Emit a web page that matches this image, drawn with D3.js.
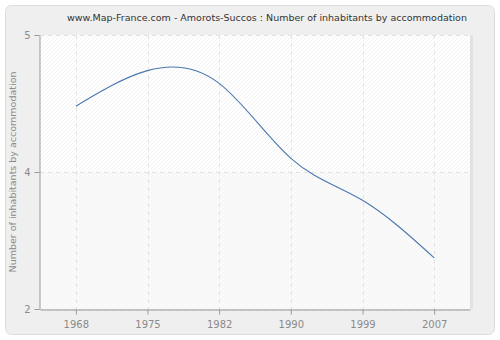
<!DOCTYPE html>
<html><head><meta charset="utf-8">
<script src="https://cdn.jsdelivr.net/npm/d3@7"></script>
<style>body{margin:0;background:#fff}svg{display:block}</style>
</head><body>
<script>
const years = ["1968","1975","1982","1990","1999","2007"];
const values = [4.22, 4.61, 4.47, 3.65, 3.19, 2.56];
const yTicks = [2, 3.5, 5];
const title = "www.Map-France.com - Amorots-Succos : Number of inhabitants by accommodation";
const yTitle = "Number of inhabitants by accommodation";

const W = 500, H = 340;
const m = {l:40, r:30, t:35, b:31};
const svg = d3.select("body").append("svg").attr("width", W).attr("height", H);
const defs = svg.append("defs");
function hatch(id, bg, line){
  const p = defs.append("pattern").attr("id", id).attr("patternUnits","userSpaceOnUse")
    .attr("width",4).attr("height",4);
  p.append("rect").attr("width",4).attr("height",4).attr("fill",bg);
  p.append("path").attr("d","M-1,1 l2,-2 M0,4 l4,-4 M3,5 l2,-2").attr("stroke",line).attr("stroke-width",0.7);
}
hatch("h1","#ffffff","#ececec");
hatch("h2","#fafafa","#f2f2f2");

svg.append("rect").attr("x",5.5).attr("y",5.5).attr("width",489).attr("height",329)
  .attr("rx",6).attr("fill","#efefef").attr("stroke","#dcdcdc");

const x = d3.scalePoint().domain(years).range([m.l, W-m.r]).padding(0.5);
const y = d3.scaleLinear().domain([2,5]).range([H-m.b, m.t]);

svg.append("rect").attr("x",W-m.r).attr("y",m.t).attr("width",3).attr("height",H-m.b-m.t).attr("fill","#e2e2e2");
svg.append("rect").attr("x",m.l).attr("y",y(5)).attr("width",W-m.r-m.l).attr("height",y(3.5)-y(5)).attr("fill","url(#h1)");
svg.append("rect").attr("x",m.l).attr("y",y(3.5)).attr("width",W-m.r-m.l).attr("height",y(2)-y(3.5)).attr("fill","url(#h2)");

const grid = svg.append("g").attr("stroke","#e2e2e2").attr("stroke-dasharray","4,4");
years.forEach(d=>grid.append("line").attr("x1",Math.round(x(d))+0.5).attr("x2",Math.round(x(d))+0.5).attr("y1",m.t).attr("y2",H-m.b));
yTicks.forEach(d=>grid.append("line").attr("x1",m.l).attr("x2",W-m.r).attr("y1",Math.round(y(d))+0.5).attr("y2",Math.round(y(d))+0.5));

const xa = svg.append("g").attr("transform",`translate(0,${H-m.b+0.5})`)
  .call(d3.axisBottom(x).tickSize(5).tickSizeOuter(0).tickPadding(6));
const ya = svg.append("g").attr("transform",`translate(${m.l-0.5},0)`)
  .call(d3.axisLeft(y).tickValues(yTicks).tickFormat(d=>String(Math.round(d))).tickSize(5).tickSizeOuter(0).tickPadding(4));
[xa,ya].forEach(a=>{
  a.select(".domain").attr("stroke","#999");
  a.selectAll(".tick line").attr("stroke","#999");
  a.selectAll("text").attr("fill","#8a8a8a").style("font-family","DejaVu Sans, Verdana, sans-serif").style("font-size","10px");
});
ya.selectAll("text").attr("dy","0.32em");

const line = d3.line().x((d,i)=>x(years[i])).y(d=>y(d)).curve(d3.curveNatural);
svg.append("path").datum(values).attr("d",line).attr("fill","none").attr("stroke","#4a78ad").attr("stroke-width",1.1);

svg.append("text").attr("x",267).attr("y",21).attr("text-anchor","middle")
  .style("font-family","DejaVu Sans, Verdana, sans-serif").style("font-size","9.5px").attr("fill","#333").text(title);
svg.append("text").attr("transform",`translate(16,${(m.t+H-m.b)/2}) rotate(-90)`).attr("text-anchor","middle")
  .style("font-family","DejaVu Sans, Verdana, sans-serif").style("font-size","9.5px").attr("fill","#8a8a8a").text(yTitle);
</script>
</body></html>
